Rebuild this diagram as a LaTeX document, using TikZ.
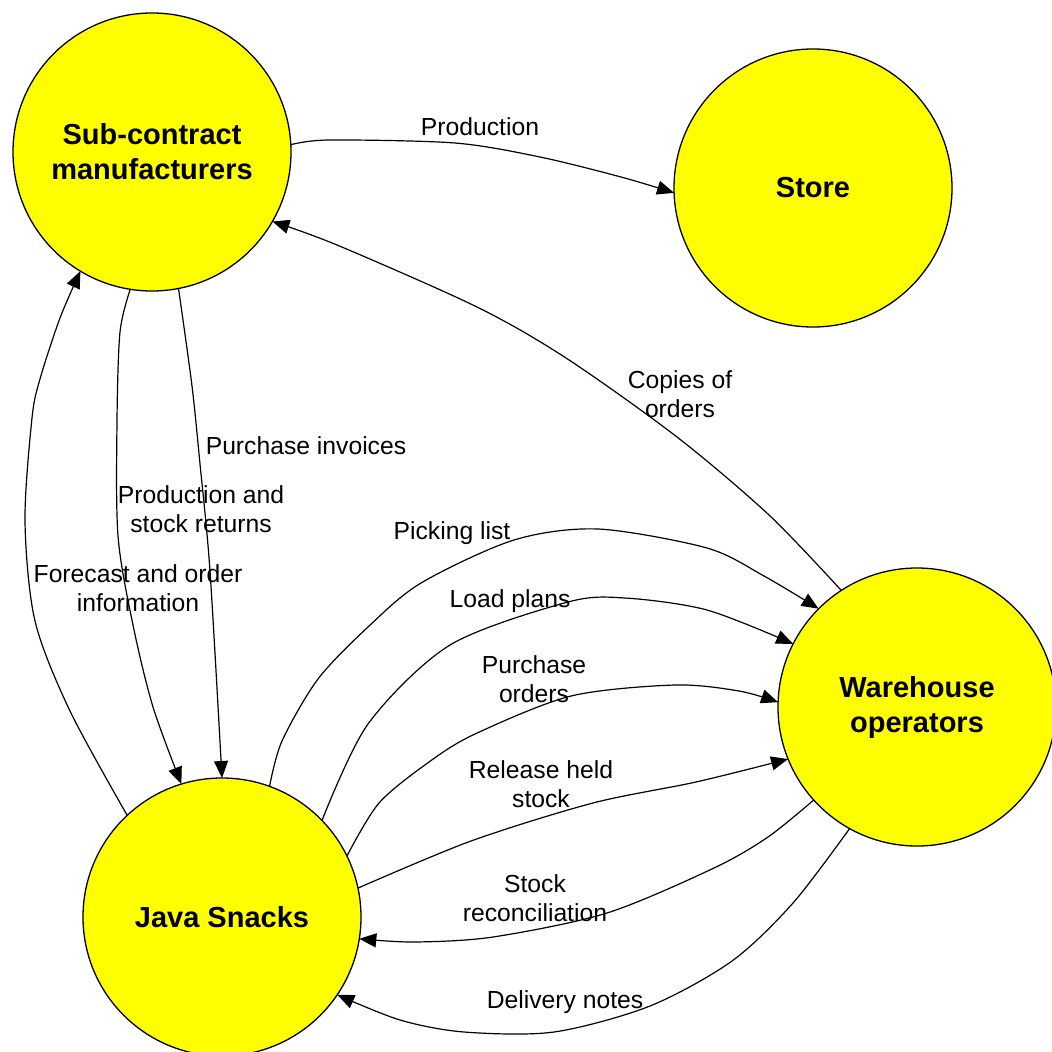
\documentclass[tikz,border=0pt]{standalone}
\usepackage{fontspec}
\setmainfont{Liberation Sans}
\usetikzlibrary{arrows.meta}
\definecolor{entityfill}{RGB}{255,255,0}
\begin{document}
\begin{tikzpicture}[x=1pt,y=-1pt,
  entity/.style={circle,draw=black,line width=1.3pt,fill=entityfill,
    minimum size=278pt,inner sep=0pt,outer sep=0pt,align=center,
    font=\fontsize{29}{35}\selectfont\bfseries},
  flow/.style={line width=1.2pt,-{Triangle[length=17pt,width=14pt]}},
  lbl/.style={align=center,inner sep=0pt,font=\fontsize{24.7}{28.5}\selectfont}]
\useasboundingbox (0,0) rectangle (1052,1052);

% external entities
\node[entity] (sc) at (152,152) {Sub-contract\\manufacturers};
\node[entity] (st) at (813,188) {Store};
\node[entity] (wh) at (917,707) {Warehouse\\operators};
\node[entity] (js) at (222,917) {Java Snacks};

% flows between the entities
\draw[flow] plot[smooth] coordinates {(sc.3.7) (329,140) (455,143) (540,157) (621,177) (st.182)};
\draw[flow] plot[smooth] coordinates {(wh.123.3) (769,515) (677,437) (566,358) (477,307) (337,245) (sc.-30.6)};
\draw[flow] plot[smooth] coordinates {(js.133) (70,711) (35,621) (25,521) (32,418) (40,379) (60,318) (sc.239.7)};
\draw[flow] plot[smooth] coordinates {(sc.-99.2) (120,332) (117,421) (118,536) (133,625) (153,707) (js.107.5)};
\draw[flow] plot[smooth] coordinates {(sc.-79) (192,386) (200,464) (210,571) (js.90.8)};
\draw[flow] plot[smooth] coordinates {(js.70.6) (282,741) (318,679) (368,627) (421,583) (514,540) (598,529) (707,548) (764,576) (wh.135.6)};
\draw[flow] plot[smooth] coordinates {(js.44.7) (368,724) (450,645) (568,602) (625,598) (707,610) (wh.153.4)};
\draw[flow] plot[smooth] coordinates {(js.26.6) (379,803) (429,762) (475,734) (571,696) (675,685) (739,691) (wh.178.3)};
\draw[flow] plot[smooth] coordinates {(js.12.9) (471,841) (593,803) (696,782) (wh.202.3)};
\draw[flow] plot[smooth] coordinates {(wh.222.7) (768,837) (714,868) (607,913) (493,937) (414,942) (js.-9.8)};
\draw[flow] plot[smooth] coordinates {(wh.241.4) (793,903) (732,961) (650,1006) (554,1032) (464,1032) (400,1020) (js.-34)};

% flow labels
\node[lbl] (lprod) at (480,127) {Production};
\node[lbl] (lcopy) at (680,394) {Copies of\\orders};
\node[lbl] (linv) at (306,446) {Purchase invoices};
\node[lbl] (lret) at (201,509) {Production and\\stock returns};
\node[lbl] (lfore) at (138,588) {Forecast and order\\information};
\node[lbl] (lpick) at (452,533) {Picking list};
\node[lbl] (lload) at (510,601) {Load plans};
\node[lbl] (lpo) at (534,679) {Purchase\\orders};
\node[lbl] (lrel) at (541,784) {Release held\\stock};
\node[lbl] (lrec) at (535,898) {Stock\\reconciliation};
\node[lbl] (ldel) at (565,1002) {Delivery notes};
\end{tikzpicture}
\end{document}
